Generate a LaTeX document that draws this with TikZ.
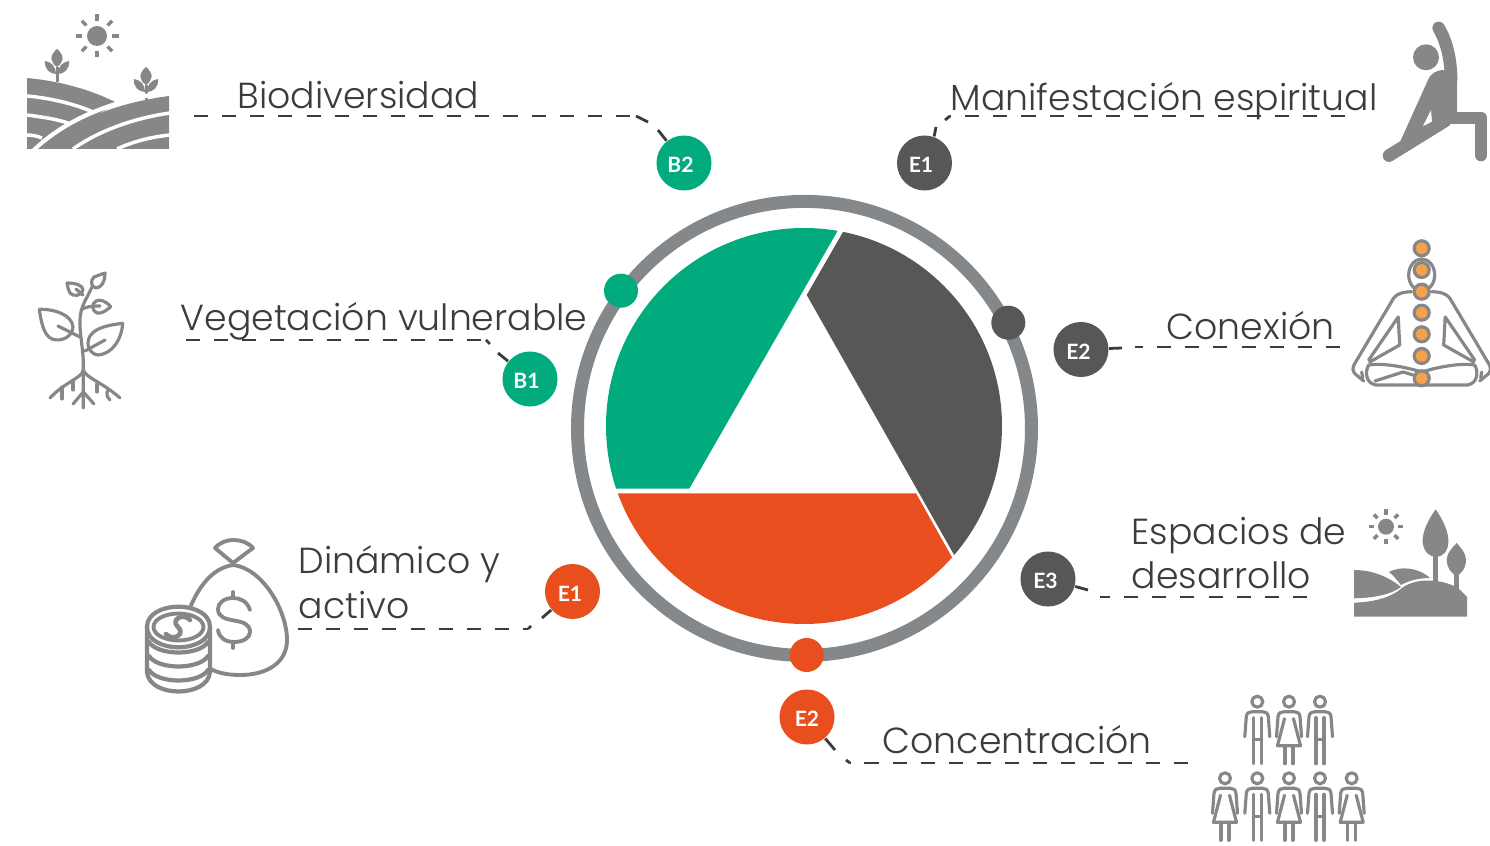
\documentclass[tikz,border=0pt]{standalone}
\usepackage{fontspec}
\setmainfont{Lato}
\newfontfamily\lightfont{Poppins Light}
\usetikzlibrary{positioning}
\definecolor{vgreen}{HTML}{02AB7E}
\definecolor{vdark}{HTML}{575756}
\definecolor{vorange}{HTML}{E94E1F}
\definecolor{vring}{HTML}{85888A}
\definecolor{vicon}{HTML}{878787}
\definecolor{vtext}{HTML}{3C3C3B}
\definecolor{vchakra}{HTML}{F7A14A}
\tikzset{
  badge/.style={circle,fill=#1,text=white,minimum size=0.55cm,inner sep=0pt,text height=5.6pt,text depth=0pt,font=\bfseries\fontsize{6}{6}\selectfont},
  ringdot/.style={circle,fill=#1,minimum size=0.34cm,inner sep=0pt},
  label/.style={anchor=base west,inner sep=0pt,text=vtext,font=\lightfont\fontsize{10.3}{10.3}\selectfont},
  dashline/.style={vtext,line width=0.8pt,dash pattern=on 4pt off 4pt},
  stubline/.style={vtext,line width=0.8pt},
  iconline/.style={vicon,line width=#1,line cap=round,line join=round},
  iconline/.default=0.9pt,
  sprout/.pic={
    \fill[vicon] (0,0) .. controls (-8,7) and (-7,13) .. (0,18) .. controls (7,13) and (8,7) .. (0,0);
    \fill[vicon] (-12,12) .. controls (-13,20) and (-7,25) .. (-1,25) .. controls (-1,18) and (-5,13) .. (-12,12);
    \fill[vicon] (12,12) .. controls (13,20) and (7,25) .. (1,25) .. controls (1,18) and (5,13) .. (12,12);
    \fill[vicon] (-1.5,18) rectangle (1.5,33);
  },
  sunrays/.pic={
    \fill[vicon] (0,0) circle [radius=#1];
    \foreach \a in {0,45,...,315}
      \draw[vicon,line width=1pt] (\a:1.5*#1) -- (\a:2.15*#1);
  },
  halfbody/.pic={
    \draw[iconline] (-10,291.7) .. controls (-18,292) and (-24,293) .. (-28,298) -- (-66,362) .. controls (-70,368) and (-70,372) .. (-64,376) -- (-58,381);
    \draw[iconline] (-53,360) -- (-23.5,317) -- (-22,345) -- (-52,362);
    \draw[iconline] (0,372) .. controls (-20,366) and (-40,363) .. (-53,365) .. controls (-57,372) and (-56,383) .. (-46,385) -- (0,385);
    \draw[iconline] (-60,372) -- (-59,378);
  },
  manfig/.pic={
    \draw[iconline] (0,0) circle [radius=5.5];
    \draw[iconline] (-12.5,35) -- (-11,15) .. controls (-10.5,11) and (-8,10) .. (-5,10) -- (5,10) .. controls (8,10) and (10.5,11) .. (11,15) -- (12.5,35);
    \draw[iconline] (-4,16) -- (-4,62) (4,16) -- (4,62) (-4,38) -- (4,38);
  },
  womanfig/.pic={
    \draw[iconline] (0,0) circle [radius=5.5];
    \draw[iconline] (-12.5,35) -- (-11,15) .. controls (-10.5,11) and (-8,10) .. (-5,10) -- (5,10) .. controls (8,10) and (10.5,11) .. (11,15) -- (12.5,35);
    \draw[iconline] (-4.5,17) -- (-11.5,44) -- (11.5,44) -- (4.5,17);
    \draw[iconline] (-4,44) -- (-4,62) (4,44) -- (4,62);
  }
}
\begin{document}
\begin{tikzpicture}[x=0.01cm,y=-0.01cm]
\useasboundingbox (0,0) rectangle (1490,846);
% ring and sectors
\draw[vring,line width=3.7pt] (804.5,428.4) circle [radius=227];
\begin{scope}
  \clip (804,426) circle [radius=198];
  \fill[vgreen] (689.3,488.7) -- (860,192) -- (560,192) -- (560,488.7) -- cycle;
  \fill[vdark] (806.7,295) -- (862,199) -- (1040,199) -- (1040,620) -- (991,620) -- cycle;
  \fill[vorange] (617,493.3) -- (916,493.3) -- (985,616) -- (985,650) -- (590,650) -- (590,493.3) -- cycle;
\end{scope}
\node[ringdot=vgreen] (dotg) at (621,290.7) {};
\node[ringdot=vdark] (dotd) at (1008.3,322.7) {};
\node[ringdot=vorange] (doto) at (806.7,655) {};
% badges
\node[badge=vgreen] (b2) at (684,163) {B2\kern2pt};
\node[badge=vgreen] (b1) at (530,379) {B1\kern2pt};
\node[badge=vdark] (e1d) at (924.5,163) {E1\kern2pt};
\node[badge=vdark] (e2d) at (1081,349.5) {E2\kern1.4pt};
\node[badge=vdark] (e3d) at (1048,579) {E3\kern1.4pt};
\node[badge=vorange] (e1o) at (572.5,591.5) {E1\kern1.4pt};
\node[badge=vorange] (e2o) at (807,717) {E2};
% labels
\node[label] (bio) at (237,109) {Biodiversidad};
\node[label] (man) at (950,111) {Manifestación espiritual};
\node[label] (veg) at (180,331) {Vegetación vulnerable};
\node[label] (con) at (1166,340) {Conexión};
\node[label] (din) at (298,574) {Dinámico y};
\node[label] (act) at (298,619) {activo};
\node[label] (esp) at (1131,545) {Espacios de};
\node[label] (des) at (1131,589) {desarrollo};
\node[label] (cnc) at (882,754) {Concentración};
% connectors
\coordinate (fbio) at (194,116);
\coordinate (fman) at (1345,116);
\coordinate (fveg) at (186,340);
\coordinate (fcon) at (1340,347);
\coordinate (fdin) at (298,629);
\coordinate (fesp) at (1307,597);
\coordinate (fcnc) at (1188,763);
\draw[dashline] (fbio) -- (636,116);
\draw[stubline] (636,116) -- (648,122) (658,130) -- (b2);
\draw[dashline] (fman) -- (950,116);
\draw[stubline] (950,116) -- (945,120) (936,127) -- (e1d.70);
\draw[dashline] (fveg) -- (486,340);
\draw[stubline] (486,340) -- (490,344) (498,353) -- (b1);
\draw[dashline] (fcon) -- (1135,347);
\draw[stubline] (1122,348) -- (e2d);
\draw[dashline] (fdin) -- (528,629);
\draw[stubline] (528,629) -- (531,626) (542,618) -- (e1o);
\draw[dashline] (fesp) -- (1100,597);
\draw[stubline] (1088,590) -- (e3d);
\draw[dashline] (fcnc) -- (850,763);
\draw[stubline] (850,763) -- (846,760) (835,750) -- (e2o);
% fields
\pic at (97,36) {sunrays=10};
\pic at (57,49) {sprout};
\pic at (146,67) {sprout};
\fill[vicon] (27,78) .. controls (60,81) and (92,90) .. (117,103) -- (40,149) -- (27,149) -- cycle;
\draw[white,line width=1pt] (27,96) .. controls (50,98) and (75,104) .. (93,112);
\draw[white,line width=1pt] (27,115) .. controls (42,117) and (56,119) .. (68,123);
\draw[white,line width=1pt] (27,135) .. controls (32,135) and (37,136) .. (42,138);
\draw[white,line width=1.2pt] (32,152) .. controls (66,118) and (115,100) .. (172,91);
\fill[vicon] (38,149) .. controls (70,122) and (115,103) .. (169,96) -- (169,149) -- cycle;
\draw[white,line width=1pt] (73,149) .. controls (100,130) and (135,118) .. (170,113);
\draw[white,line width=1pt] (117,149) .. controls (132,142) and (150,137) .. (170,135);
% yoga figure
\fill[vicon] (1426,57.3) circle [radius=13];
\draw[iconline=3.6pt] (1438.7,28) .. controls (1447,42) and (1451,60) .. (1451,80);
\fill[vicon] (1428,80) .. controls (1431,73) and (1436,71) .. (1442,70) -- (1457,72) -- (1457,124) -- (1447,124) -- (1398,152) -- (1400,142) -- cycle;
\fill[white] (1431,110) -- (1423,126) -- (1432,122) -- cycle;
\draw[iconline=3.6pt] (1389,155.6) -- (1445,121);
\draw[iconline=3.6pt] (1455,118) -- (1481,118) -- (1481,155);
% meditation figure
\draw[iconline] (1421.7,275) ellipse [x radius=13,y radius=16];
\pic at (1421.7,0) {halfbody};
\pic[xscale=-1] at (1421.7,0) {halfbody};
\draw[iconline] (1375,381) -- (1403,372) -- (1413,375);
\foreach \y in {248.3,270,291.7,312.7,334.3,356,378.3}
  \filldraw[fill=vchakra,draw=vicon,line width=0.9pt] (1421.7,\y) circle [radius=7.5];
% plant
\draw[iconline] (83.3,408) -- (83.3,360) .. controls (82,340) and (78,325) .. (81,312) .. controls (83,303) and (87,298) .. (92,287);
\draw[iconline] (39.3,309.3) .. controls (55,309) and (72,315) .. (73,327) .. controls (72,338) and (60,342) .. (52,339) .. controls (43,335) and (41,320) .. (39.3,309.3);
\draw[iconline] (58,326) -- (80,337);
\draw[iconline] (122.7,323.3) .. controls (122,338) and (113,354) .. (98,355) .. controls (90,354) and (85,345) .. (90,336) .. controls (96,327) and (110,325) .. (122.7,323.3);
\draw[iconline] (105,340) -- (85,351);
\draw[iconline] (105,273) .. controls (105,282) and (101,288) .. (96,288) .. controls (91,287) and (90,281) .. (94,277) -- cycle;
\draw[iconline] (67,283) .. controls (75,283) and (83,285) .. (83,290) .. controls (82,296) and (73,297) .. (70,293) .. controls (68,290) and (68,287) .. (67,283);
\draw[iconline] (110.7,306.7) .. controls (106,301) and (100,299) .. (96,301) .. controls (91,304) and (92,311) .. (97,313) .. controls (102,314) and (107,310) .. (110.7,306.7);
\draw[iconline] (81,310) .. controls (85,307) and (90,306) .. (100,306);
\draw[iconline] (83,295) -- (76,289);
\draw[iconline] (83.3,370) .. controls (82,378) and (65,382) .. (50,398);
\draw[iconline] (83.3,370) .. controls (86,378) and (102,382) .. (120,398);
\draw[iconline] (62,387) -- (62,399) (73,382) -- (73,390) (97,384) -- (97,392);
\draw[iconline] (108,390) .. controls (106,394) and (107,397) .. (110,400);
\draw[iconline] (83.3,392) -- (73,404) (83.3,392) -- (94,404);
% money
\draw[iconline=1.1pt] (233,563) -- (215,548) .. controls (220,542) and (228,540) .. (233,540) .. controls (240,540) and (248,542) .. (253,548) -- cycle;
\draw[iconline=1.1pt] (233,565) .. controls (212,568) and (198,588) .. (190,608);
\draw[iconline=1.1pt] (233,565) .. controls (262,568) and (287,610) .. (287,640) .. controls (287,662) and (268,675) .. (240,675) .. controls (225,675) and (215,672) .. (207,667);
\draw[iconline=1.1pt] (250,610) .. controls (247,601) and (240,598) .. (233,598) .. controls (224,598) and (218,603) .. (218,609) .. controls (218,626) and (250,615) .. (250,632) .. controls (250,638) and (243,642) .. (234,642) .. controls (226,642) and (219,638) .. (218,630);
\draw[iconline=1.1pt] (233,592) -- (233,598) (233,642) -- (233,648);
\filldraw[fill=white,draw=vicon,line width=1.2pt] (147,627) .. controls (147,600) and (210,600) .. (210,627) -- (210,672) .. controls (208,698) and (149,698) .. (147,672) -- cycle;
\draw[iconline=1.1pt] (178.5,627) ellipse [x radius=25,y radius=13.5];
\draw[iconline=1.2pt] (147,627) .. controls (147,654) and (210,654) .. (210,627);
\foreach \y in {642,656,670}
  \draw[iconline=1.2pt] (149,\y) .. controls (158,\y+14) and (199,\y+14) .. (208,\y);
\draw[iconline=1.3pt] (190,620) .. controls (183,612) and (170,620) .. (178,627) .. controls (186,634) and (173,642) .. (166,634);
% landscape
\pic at (1386,526.7) {sunrays=8};
\fill[vicon] (1435.7,509.3) .. controls (1428,520) and (1422,532) .. (1422.7,543) .. controls (1424,552) and (1430,557) .. (1435.7,557) .. controls (1442,557) and (1448,552) .. (1448.3,543) .. controls (1449,532) and (1443,520) .. (1435.7,509.3);
\fill[vicon] (1433,555) rectangle (1438,583);
\fill[vicon] (1456.7,543) .. controls (1452,548) and (1446.7,553) .. (1446.7,560) .. controls (1447,568) and (1452,575) .. (1456.7,575) .. controls (1461,575) and (1466,568) .. (1466,560) .. controls (1466,553) and (1461,548) .. (1456.7,543);
\fill[vicon] (1454,573) rectangle (1459,592);
\fill[vicon] (1354,570) .. controls (1368,570) and (1385,574) .. (1401,587) .. controls (1392,594) and (1375,598) .. (1354,598.3) -- cycle;
\fill[vicon] (1389,572) .. controls (1400,566) and (1418,567) .. (1430,578) .. controls (1420,578) and (1410,580) .. (1401,585) .. controls (1397,580) and (1393,575) .. (1389,572);
\fill[vicon] (1354,602.7) .. controls (1375,602) and (1392,597) .. (1402,588) .. controls (1415,578) and (1440,578) .. (1458,588) -- (1467,597) -- (1467,616.7) -- (1354,616.7) -- cycle;
% people
\foreach \x/\y/\kind in {1257.3/701.7/manfig,1289/701.7/womanfig,1320/701.7/manfig,
  1225/778.3/womanfig,1257.3/778.3/manfig,1289/778.3/womanfig,1320/778.3/manfig,1351.7/778.3/womanfig}
  \pic at (\x,\y) {\kind};
\end{tikzpicture}
\end{document}
